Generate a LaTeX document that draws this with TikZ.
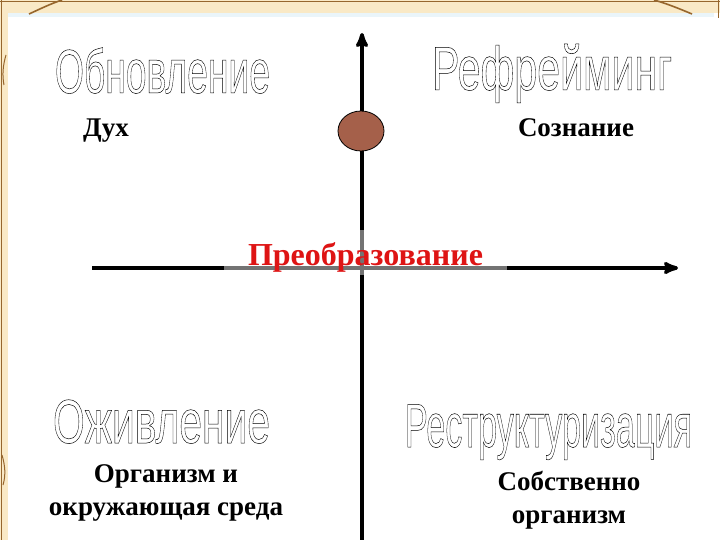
\documentclass[tikz,border=0pt]{standalone}
\usepackage{fontspec}
\setmainfont{Liberation Serif}
\newfontfamily\wordart{Liberation Sans}
\usepackage{graphicx}
\usetikzlibrary{shapes}
\usetikzlibrary{arrows}

\definecolor{parchment}{RGB}{249,233,198}
\definecolor{bark}{RGB}{150,102,45}
\definecolor{haze}{RGB}{234,245,250}
\definecolor{clay}{RGB}{165,96,74}
\definecolor{signal}{RGB}{222,20,20}

% outlined WordArt-like text
\newcommand{\hollow}[2]{\resizebox{#1}{\height}{\special{pdf:code q 1 Tr 0.5 w}#2\special{pdf:code Q}}}

\begin{document}
\begin{tikzpicture}[x=1pt,y=-1pt,
  title/.style={anchor=base, inner sep=0pt, font=\wordart\fontsize{62}{62}\selectfont},
  sense/.style={anchor=base, inner sep=0pt, align=center, font=\bfseries\fontsize{27}{33}\selectfont},
  axis/.style={line width=3.5pt, -stealth'}]
  \useasboundingbox (0,0) rectangle (720,540);
  % frame
  \fill[white] (0,0) rectangle (720,540);
  \fill[parchment] (0,0) rectangle (720,13);
  \fill[haze] (8,13) rectangle (714,17);
  \fill[parchment] (0,0) rectangle (8,540);
  \draw[bark, line width=0.8pt] (1.5,0) -- (1.5,540);
  \draw[bark, line width=0.8pt] (0,1) -- (720,1);
  \draw[bark, line width=0.8pt] (718,0) -- (718,18);
  \draw[bark, line width=1.6pt] (29,14) .. controls (40,9) and (50,4) .. (62,0);
  \draw[bark, line width=1.6pt] (692,14) .. controls (680,9) and (668,4) .. (654,0);
  \draw[bark, line width=1pt] (6,55) .. controls (3,65) and (2,75) .. (4,85);
  \draw[bark, line width=1pt] (2,455) .. controls (5,465) and (6,475) .. (3,485);

  \coordinate (south) at (362,540);
  \coordinate (north) at (362,33);
  \coordinate (west) at (92,268);
  \coordinate (east) at (678,268);
  \draw[axis] (west) -- (east);
  \draw[axis] (south) -- (north);
  \node[ellipse, draw, fill=clay, line width=0.8pt, minimum width=46pt, minimum height=40pt] (spirit) at (361,131) {};

  \node[anchor=base, inner sep=0pt, text height=35pt, text depth=10pt, minimum width=283pt,
        fill=white, fill opacity=0.45, text opacity=1, text=signal,
        font=\bfseries\fontsize{32}{32}\selectfont] (shift) at (365.5,265) {Преобразование};

  \node[title] (renewal) at (162.5,93) {\hollow{215pt}{Обновление}};
  \node[title] (reframe) at (552,90) {\hollow{240pt}{Рефрейминг}};
  \node[title] (revival) at (161.5,443) {\hollow{217pt}{Оживление}};
  \node[title] (rebuild) at (548.5,447) {\hollow{287pt}{Реструктуризация}};

  \node[sense] (mind) at (106,137) {Дух};
  \node[sense] (aware) at (576,137) {Сознание};
  \node[sense] (world) at (166,515) {Организм и\\окружающая среда};
  \node[sense] (body) at (569,523) {Собственно\\организм};
\end{tikzpicture}
\end{document}
